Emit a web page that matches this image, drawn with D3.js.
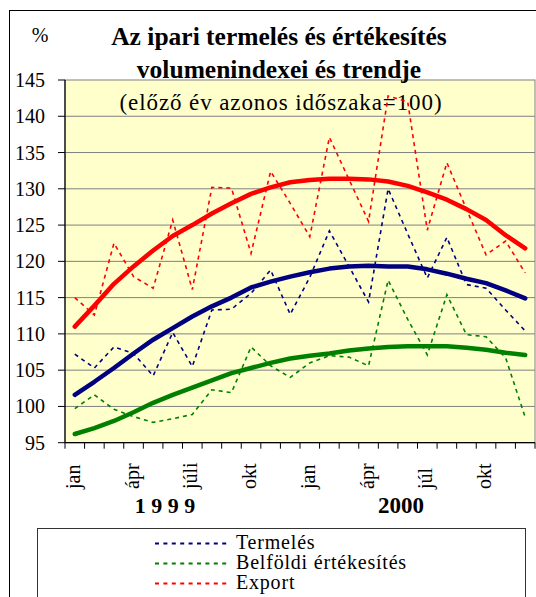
<!DOCTYPE html>
<html lang="hu">
<head>
<meta charset="utf-8">
<title>Az ipari termelés és értékesítés volumenindexei</title>
<script src="https://d3js.org/d3.v7.min.js"></script>
<style>
  body { margin: 0; background: #fff; }
  svg text { font-family: "Liberation Serif", "Times New Roman", serif; fill: #000; }
</style>
</head>
<body>
<svg id="chart" width="536" height="597"></svg>
<script>
// months Jan 1999 .. Dec 2000
var monthLabels = ["jan","","","ápr","","","júli","","","okt","","",
                   "jan","","","ápr","","","júl","","","okt","",""];
var yearLabels = ["1 9 9 9", "2000"];
var yTicks = [95, 100, 105, 110, 115, 120, 125, 130, 135, 140, 145];

// monthly indices (dashed)
var termeles = [107.2,105.3,108.2,107.3,104.2,110.2,105.5,113.3,113.4,115.6,118.8,112.7,
                117.8,124.2,119.3,114.4,130.0,123.8,117.7,123.3,116.8,116.3,113.3,110.4];
var belfoldi = [99.7,101.6,99.6,98.6,97.8,98.3,98.9,102.3,101.9,108.2,105.6,104.0,
                106.0,107.0,106.8,105.6,117.4,112.0,107.1,115.4,109.9,109.6,106.7,98.5];
var exportIdx = [115.0,112.6,122.5,117.9,116.3,125.7,116.1,130.2,130.1,121.1,132.4,128.0,
                 123.4,137.1,131.3,125.5,142.8,142.0,124.3,133.6,127.2,120.9,122.8,118.4];

// trends (solid)
var termelesTrend = [101.6,103.4,105.3,107.3,109.2,110.8,112.4,113.8,115.0,116.4,117.2,117.9,
                     118.5,119.0,119.3,119.4,119.3,119.3,118.9,118.3,117.6,117.0,116.0,114.9];
var belfoldiTrend = [96.2,97.0,98.0,99.2,100.5,101.6,102.6,103.6,104.6,105.3,106.0,106.6,
                     107.0,107.3,107.7,108.0,108.2,108.3,108.3,108.3,108.1,107.8,107.4,107.1];
var exportTrend = [111.0,113.9,116.9,119.3,121.5,123.5,125.0,126.6,128.0,129.3,130.2,130.9,
                   131.2,131.4,131.4,131.3,131.0,130.4,129.5,128.5,127.2,125.7,123.6,121.8];

var seriesNames = ["Termelés", "Belföldi értékesítés", "Export"];
var colors = ["#000080", "#008000", "#ff0000"];

var svg = d3.select("#chart");
var plotLeft = 65, plotRight = 535, plotTop = 80, plotBottom = 442.7;

var x = d3.scaleBand().domain(d3.range(24)).range([plotLeft, plotRight]).padding(0);
var y = d3.scaleLinear().domain([95, 145]).range([plotBottom, plotTop]);
var bw = x.bandwidth();

// outer frame
svg.append("rect")
  .attr("x", 9.5).attr("y", 10.5).attr("width", 540).attr("height", 600)
  .attr("fill", "#fff").attr("stroke", "#000").attr("stroke-width", 1);

// plot area
svg.append("rect")
  .attr("x", plotLeft).attr("y", plotTop).attr("width", plotRight - plotLeft).attr("height", plotBottom - plotTop)
  .attr("fill", "#ffffcc").attr("stroke", "#808080").attr("stroke-width", 1);

// gridlines
svg.selectAll(".grid").data(yTicks.slice(1, -1)).enter().append("line")
  .attr("x1", plotLeft).attr("x2", plotRight)
  .attr("y1", function(d) { return y(d); }).attr("y2", function(d) { return y(d); })
  .attr("stroke", "#808080").attr("stroke-width", 1);

// y axis
svg.append("line").attr("x1", plotLeft).attr("x2", plotLeft).attr("y1", plotTop).attr("y2", plotBottom)
  .attr("stroke", "#000").attr("stroke-width", 1.2);
svg.selectAll(".ytick").data(yTicks).enter().append("line")
  .attr("x1", plotLeft - 7).attr("x2", plotLeft)
  .attr("y1", function(d) { return y(d); }).attr("y2", function(d) { return y(d); })
  .attr("stroke", "#000");
svg.selectAll(".ylab").data(yTicks).enter().append("text")
  .attr("x", 45).attr("y", function(d) { return y(d); })
  .attr("dy", "0.35em").attr("text-anchor", "end")
  .style("font-size", "20px")
  .text(function(d) { return d; });

// x axis
svg.append("line").attr("x1", plotLeft).attr("x2", plotRight).attr("y1", plotBottom).attr("y2", plotBottom)
  .attr("stroke", "#000").attr("stroke-width", 1.2);
var bounds = d3.range(25).map(function(i) { return i < 24 ? x(i) : x.range()[1]; });
svg.selectAll(".xtick").data(bounds).enter().append("line")
  .attr("x1", function(d) { return d; }).attr("x2", function(d) { return d; })
  .attr("y1", plotBottom).attr("y2", plotBottom + 6)
  .attr("stroke", "#000");
svg.selectAll(".xlab").data(monthLabels).enter().append("text")
  .attr("transform", function(d, i) { return "translate(" + (x(i) + bw / 2 + 5) + ",489) rotate(-90)"; })
  .style("font-size", "20px")
  .text(function(d) { return d; });

svg.append("text").attr("x", 165).attr("y", 513).attr("text-anchor", "middle")
  .style("font-size", "22px").style("font-weight", "bold").text(yearLabels[0]);
svg.append("text").attr("x", 401).attr("y", 513).attr("text-anchor", "middle")
  .style("font-size", "23px").style("font-weight", "bold").text(yearLabels[1]);

// titles
svg.append("text").attr("x", 40).attr("y", 42).attr("text-anchor", "middle")
  .style("font-size", "20px").text("%");
svg.append("text").attr("x", 279).attr("y", 45).attr("text-anchor", "middle")
  .style("font-size", "25.5px").style("font-weight", "bold").text("Az ipari termelés és értékesítés");
svg.append("text").attr("x", 279).attr("y", 78).attr("text-anchor", "middle")
  .style("font-size", "25.5px").style("font-weight", "bold").text("volumenindexei és trendje");
svg.append("text").attr("x", 281).attr("y", 110).attr("text-anchor", "middle")
  .style("font-size", "23px").style("letter-spacing", "0.9px").text("(előző év azonos időszaka=100)");

// lines
var line = d3.line()
  .x(function(d, i) { return x(i) + bw / 2; })
  .y(function(d) { return y(d); });

var dashed = [termeles, belfoldi, exportIdx];
var trends = [termelesTrend, belfoldiTrend, exportTrend];

dashed.forEach(function(s, k) {
  svg.append("path").datum(s).attr("d", line)
    .attr("fill", "none").attr("stroke", colors[k])
    .attr("stroke-width", 1.6).attr("stroke-dasharray", "4,4");
});
trends.forEach(function(s, k) {
  svg.append("path").datum(s).attr("d", line)
    .attr("fill", "none").attr("stroke", colors[k])
    .attr("stroke-width", 4.5).attr("stroke-linejoin", "round").attr("stroke-linecap", "round");
});

// legend
svg.append("rect").attr("x", 37.5).attr("y", 528.5).attr("width", 488).attr("height", 100)
  .attr("fill", "#fff").attr("stroke", "#333").attr("stroke-width", 1);
seriesNames.forEach(function(n, k) {
  var ly = 543.5 + k * 20;
  svg.append("line").attr("x1", 155).attr("x2", 229).attr("y1", ly).attr("y2", ly)
    .attr("stroke", colors[k]).attr("stroke-width", 2).attr("stroke-dasharray", "4,4.4");
  svg.append("text").attr("x", 236).attr("y", ly + 5)
    .style("font-size", "20px").style("letter-spacing", "0.8px").text(n);
});
</script>
</body>
</html>
